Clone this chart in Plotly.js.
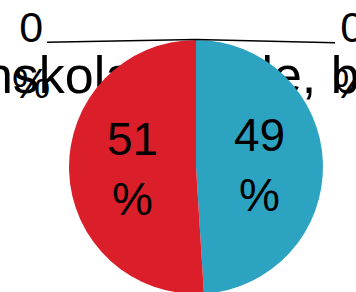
<!DOCTYPE html>
<html>
<head>
<meta charset="utf-8">
<script src="https://cdn.plot.ly/plotly-3.0.1.min.js"></script>
<style>
  html, body { margin: 0; padding: 0; overflow: hidden; background: #fff; }
  #chart { width: 356px; height: 300px; }
</style>
</head>
<body>
<div id="chart"></div>
<script>
// ---- data ----
var categories = ["Ja", "Nej", "Vet ej", "Ej svar"];
var values = [49, 51, 0, 0];
var colors = ["#2ca3c1", "#db1f2a", "#8c8c8c", "#f0a020"];
var titleText = "Vuxenskola, samle, barnen";

// ---- layout helpers ----
var W = 356, H = 300;
var FONT = 'Arial, "Liberation Sans", sans-serif';
var dom = { x: [69 / W, 323 / W], y: [6 / H, 260 / H] };
var pieCx = (dom.x[0] + dom.x[1]) / 2;          // pie centre (paper)
var pieTop = dom.y[1];                           // pie top (paper)

var mainText = values.map(function (v) { return v > 0 ? v + "<br>%" : ""; });

var trace = {
  type: "pie",
  labels: categories,
  values: values,
  sort: false,
  direction: "clockwise",
  rotation: 0,
  domain: dom,
  marker: { colors: colors, line: { width: 0 } },
  text: mainText,
  textinfo: "text",
  textposition: "inside",
  insidetextorientation: "horizontal",
  insidetextfont: { family: FONT, size: 46, color: "#000" },
  hoverinfo: "label+value",
  showlegend: false
};

var zeroIdx = [];
values.forEach(function (v, i) { if (v === 0) zeroIdx.push(i); });

var annotations = [
  { text: values[zeroIdx[0]] + "<br>%", x: 31 / W, y: 1 - 55 / H },
  { text: values[zeroIdx[1]] + "<br>%", x: 352 / W, y: 1 - 55 / H }
].map(function (a) {
  return {
    xref: "paper", yref: "paper", x: a.x, y: a.y,
    xanchor: "center", yanchor: "middle",
    text: a.text, showarrow: false,
    font: { family: FONT, size: 43, color: "#000" }
  };
});

var titleCx = 180 / W;
var shapes = [
  {
    type: "rect", xref: "paper", yref: "paper", layer: "below",
    x0: titleCx - 0.45, x1: titleCx + 0.45, y0: 1 - 90 / H, y1: 1 - 50 / H,
    line: { width: 0 }, fillcolor: "rgba(0,0,0,0)",
    label: { text: titleText, textposition: "middle center",
             font: { family: FONT, size: 52, color: "#000" } }
  },
  { type: "line", xref: "paper", yref: "paper", layer: "above",
    x0: 47 / W, y0: 1 - 42.3 / H, x1: pieCx, y1: pieTop + 0.5 / H,
    line: { color: "#000", width: 1.6 } },
  { type: "line", xref: "paper", yref: "paper", layer: "above",
    x0: pieCx, y0: pieTop + 0.5 / H, x1: 335 / W, y1: 1 - 42.7 / H,
    line: { color: "#000", width: 1.6 } }
];

var layout = {
  width: W, height: H,
  margin: { l: 0, r: 0, t: 0, b: 0, pad: 0 },
  paper_bgcolor: "#fff",
  showlegend: false,
  annotations: annotations,
  shapes: shapes,
  font: { family: FONT }
};

Plotly.newPlot("chart", [trace], layout, { displayModeBar: false, staticPlot: true });
</script>
</body>
</html>
